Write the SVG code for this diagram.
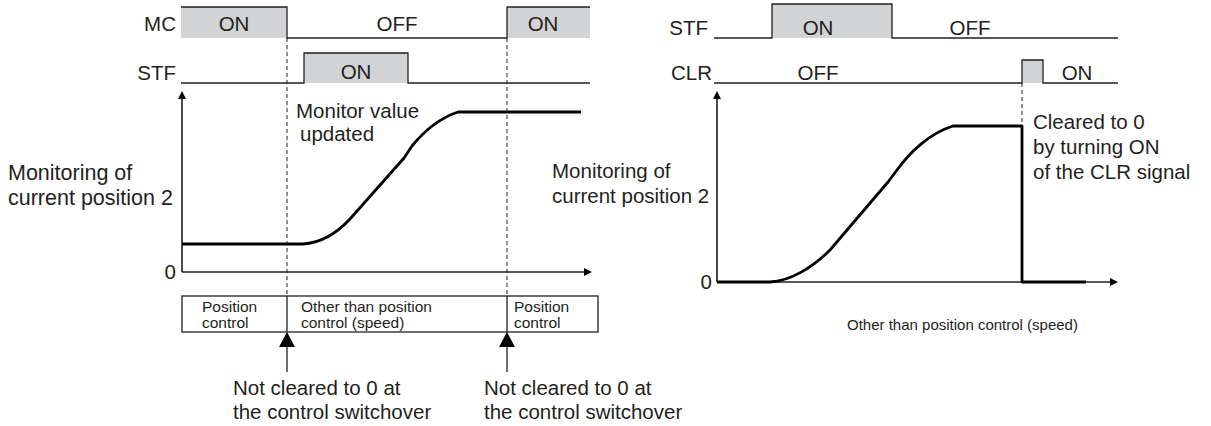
<svg xmlns="http://www.w3.org/2000/svg" width="1211" height="426" viewBox="0 0 1211 426">
<style>
text{font-family:"Liberation Sans",Arial,sans-serif;fill:#231f20}
.t{font-size:20.5px}
.s{font-size:15.5px}
.sig{fill:#d1d3d4;stroke:none}
.ln{fill:none;stroke:#231f20;stroke-width:1.3}
.ax{fill:none;stroke:#231f20;stroke-width:1.6}
.wv{fill:none;stroke:#000;stroke-width:2.8;stroke-linejoin:round}
.dash{fill:none;stroke:#231f20;stroke-width:1;stroke-dasharray:4 3}
.ah{fill:#000}
</style>
<g id="left-mc">
<rect class="sig" x="181" y="7" width="106" height="31"/>
<rect class="sig" x="507" y="7" width="83" height="31"/>
<path class="ln" d="M181,7 H287 V38 H507 V7 H590"/>
<text class="t" x="176" y="31" text-anchor="end">MC</text>
<text class="t" x="234" y="31" text-anchor="middle">ON</text>
<text class="t" x="397" y="31" text-anchor="middle">OFF</text>
<text class="t" x="543" y="31" text-anchor="middle">ON</text>
</g>
<g id="left-stf">
<rect class="sig" x="304" y="53" width="104" height="30"/>
<path class="ln" d="M181,83 H304 V53 H408 V83 H590"/>
<text class="t" x="176" y="80" text-anchor="end">STF</text>
<text class="t" x="356" y="79" text-anchor="middle">ON</text>
</g>
<g id="left-chart">
<path class="ax" d="M182,272 V97 M182,272 H585"/>
<path class="ah" d="M182,91 L178,99 L186,99 Z"/>
<path class="ah" d="M592,272 L584,268 L584,276 Z"/>
<path class="wv" d="M182,244 H303 C320,243 336,234 350,219 L404,158 L412,146 C425,130 440,118 458,112 H581"/>
<text class="t" x="8" y="180" style="font-size:21.5px">Monitoring of</text>
<text class="t" x="8" y="205" style="font-size:21.5px">current position 2</text>
<text class="t" x="176" y="279" text-anchor="end">0</text>
<text class="t" x="296" y="118">Monitor value</text>
<text class="t" x="300" y="141">updated</text>
</g>
<g id="left-mode">
<rect class="ln" x="182" y="296" width="416" height="36"/>
<path class="ln" d="M287,296 V332 M507,296 V332"/>
<text class="s" x="202" y="312">Position</text>
<text class="s" x="202" y="328">control</text>
<text class="s" x="301" y="312">Other than position</text>
<text class="s" x="301" y="328">control (speed)</text>
<text class="s" x="514" y="312">Position</text>
<text class="s" x="514" y="328">control</text>
</g>
<g id="left-notes">
<text class="t" x="233" y="395">Not cleared to 0 at</text>
<text class="t" x="233" y="419">the control switchover</text>
<text class="t" x="484" y="395">Not cleared to 0 at</text>
<text class="t" x="484" y="419">the control switchover</text>
</g>
<g id="right-stf">
<rect class="sig" x="772" y="4" width="120" height="34"/>
<path class="ln" d="M714,38 H772 V4 H892 V38 H1118"/>
<text class="t" x="708" y="35" text-anchor="end">STF</text>
<text class="t" x="818" y="35" text-anchor="middle">ON</text>
<text class="t" x="970" y="35" text-anchor="middle">OFF</text>
</g>
<g id="right-clr">
<rect class="sig" x="1022" y="60" width="21" height="23"/>
<path class="ln" d="M714,83 H1022 V60 H1043 V83 H1118"/>
<text class="t" x="712" y="80" text-anchor="end">CLR</text>
<text class="t" x="818" y="80" text-anchor="middle">OFF</text>
<text class="t" x="1077" y="80" text-anchor="middle">ON</text>
</g>
<g id="right-chart">
<path class="ax" d="M717,282 V97 M717,282 H1110"/>
<path class="ah" d="M717,91 L713,99 L721,99 Z"/>
<path class="ah" d="M1118,282 L1110,278 L1110,286 Z"/>
<path class="wv" d="M717,282 H770 C790,281 812,268 830,250 L888,182 L897,170 C910,152 930,133 953,126 H1022 V282 H1086"/>
<text class="t" x="552" y="178">Monitoring of</text>
<text class="t" x="552" y="203">current position 2</text>
<text class="t" x="712" y="289" text-anchor="end">0</text>
<text class="t" x="1033" y="129">Cleared to 0</text>
<text class="t" x="1033" y="154">by turning ON</text>
<text class="t" x="1033" y="179">of the CLR signal</text>
<text class="s" x="847" y="330" style="font-size:15px">Other than position control (speed)</text>
</g>
<g id="connectors">
<path class="dash" d="M287,38 V296 M507,38 V296"/>
<path class="dash" d="M1022,83 V126" stroke="#777"/>
<path class="ah" d="M287,332 L279,347 L295,347 Z"/>
<path class="ah" d="M507,332 L499,347 L515,347 Z"/>
<path class="ln" d="M287,347 V372 M507,347 V372"/>
</g>
</svg>
